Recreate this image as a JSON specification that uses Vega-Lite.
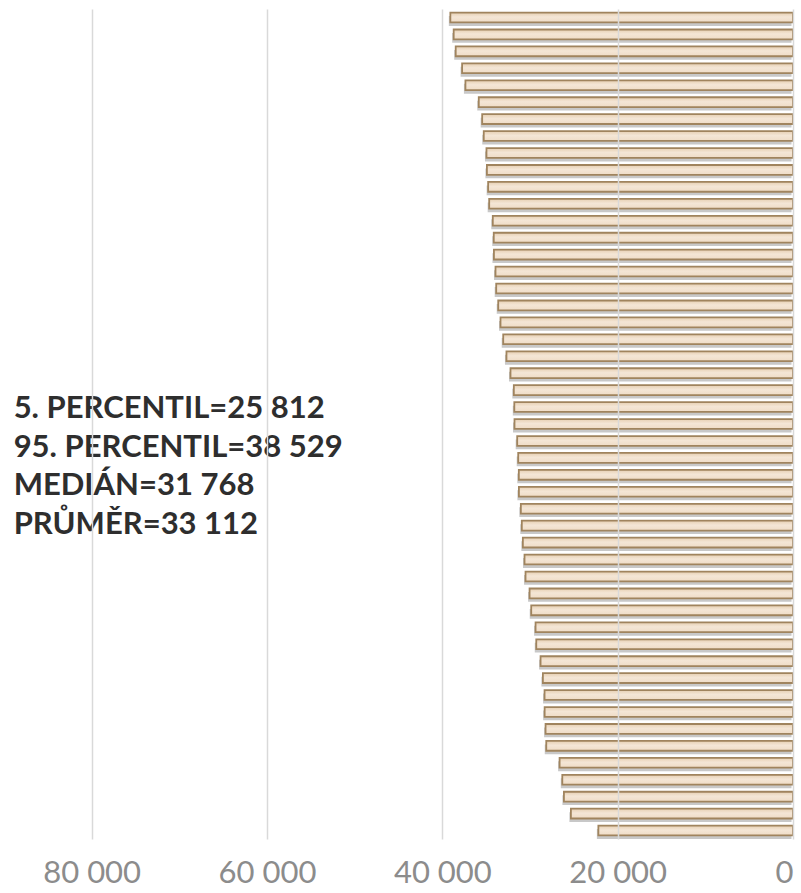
{
  "$schema": "https://vega.github.io/schema/vega-lite/v6.json",
  "width": 789,
  "height": 830,
  "autosize": {"type": "none"},
  "padding": {"left": 4, "top": 9, "right": 8, "bottom": 54},
  "background": "white",
  "config": {"view": {"stroke": null}},
  "datasets": {
    "bars": [
      {"rank": 1, "value": 39085}, {"rank": 2, "value": 38705}, {"rank": 3, "value": 38475},
      {"rank": 4, "value": 37745}, {"rank": 5, "value": 37365}, {"rank": 6, "value": 35845},
      {"rank": 7, "value": 35455}, {"rank": 8, "value": 35275}, {"rank": 9, "value": 34965},
      {"rank": 10, "value": 34915}, {"rank": 11, "value": 34775}, {"rank": 12, "value": 34655},
      {"rank": 13, "value": 34245}, {"rank": 14, "value": 34135}, {"rank": 15, "value": 34115},
      {"rank": 16, "value": 33935}, {"rank": 17, "value": 33855}, {"rank": 18, "value": 33625},
      {"rank": 19, "value": 33365}, {"rank": 20, "value": 33055}, {"rank": 21, "value": 32685},
      {"rank": 22, "value": 32225}, {"rank": 23, "value": 31845}, {"rank": 24, "value": 31790},
      {"rank": 25, "value": 31768}, {"rank": 26, "value": 31460}, {"rank": 27, "value": 31345},
      {"rank": 28, "value": 31275}, {"rank": 29, "value": 31265}, {"rank": 30, "value": 31045},
      {"rank": 31, "value": 30935}, {"rank": 32, "value": 30815}, {"rank": 33, "value": 30625},
      {"rank": 34, "value": 30510}, {"rank": 35, "value": 30050}, {"rank": 36, "value": 29860},
      {"rank": 37, "value": 29365}, {"rank": 38, "value": 29285}, {"rank": 39, "value": 28795},
      {"rank": 40, "value": 28530}, {"rank": 41, "value": 28340}, {"rank": 42, "value": 28330},
      {"rank": 43, "value": 28225}, {"rank": 44, "value": 28145}, {"rank": 45, "value": 26625},
      {"rank": 46, "value": 26315}, {"rank": 47, "value": 26130}, {"rank": 48, "value": 25335},
      {"rank": 49, "value": 22200}
    ],
    "stats": [
      {"label": "5. PERCENTIL=25 812\n95. PERCENTIL=38 529\nMEDIÁN=31 768\nPRŮMĚR=33 112", "pos": 88900, "rank": 24}
    ]
  },
  "layer": [
    {
      "data": {"name": "bars"},
      "mark": {"type": "bar", "color": "#9a9a9a", "opacity": 0.55, "yOffset": 3.5, "xOffset": -1.5},
      "encoding": {
        "y": {"field": "rank", "type": "ordinal", "axis": null,
              "scale": {"paddingInner": 0.42, "paddingOuter": 0.21}},
        "x": {"field": "value", "type": "quantitative"}
      }
    },
    {
      "data": {"name": "bars"},
      "mark": {
        "type": "bar",
        "fill": {"gradient": "linear", "x1": 0, "y1": 0, "x2": 0, "y2": 1,
                 "stops": [{"offset": 0, "color": "#e6cfb2"}, {"offset": 0.45, "color": "#f4e6d6"}, {"offset": 1, "color": "#efdcc6"}]},
        "stroke": "#a0845e",
        "strokeWidth": 1.8
      },
      "encoding": {
        "y": {"field": "rank", "type": "ordinal", "axis": null},
        "x": {
          "field": "value", "type": "quantitative",
          "scale": {"domain": [0, 90000], "reverse": true, "nice": false},
          "axis": {
            "values": [0, 20000, 40000, 60000, 80000],
            "title": null, "domain": false, "ticks": false,
            "grid": true, "gridColor": "#d9d9d9", "gridWidth": 1.5,
            "zindex": 1,
            "labelExpr": "replace(format(datum.value, ','), ',', ' ')",
            "labelFont": "Lato",
            "labelFontSize": 31, "labelColor": "#8c8c8c",
            "labelPadding": 19, "labelDx": -4
          }
        }
      }
    },
    {
      "data": {"name": "stats"},
      "mark": {"type": "text", "align": "left", "baseline": "middle", "lineBreak": "\n",
               "lineHeight": 38.5, "font": "Lato",
               "fontWeight": "bold", "fontSize": 31, "color": "#2e2e2e", "dy": 2},
      "encoding": {
        "y": {"field": "rank", "type": "ordinal"},
        "x": {"field": "pos", "type": "quantitative"},
        "text": {"field": "label"}
      }
    }
  ]
}
